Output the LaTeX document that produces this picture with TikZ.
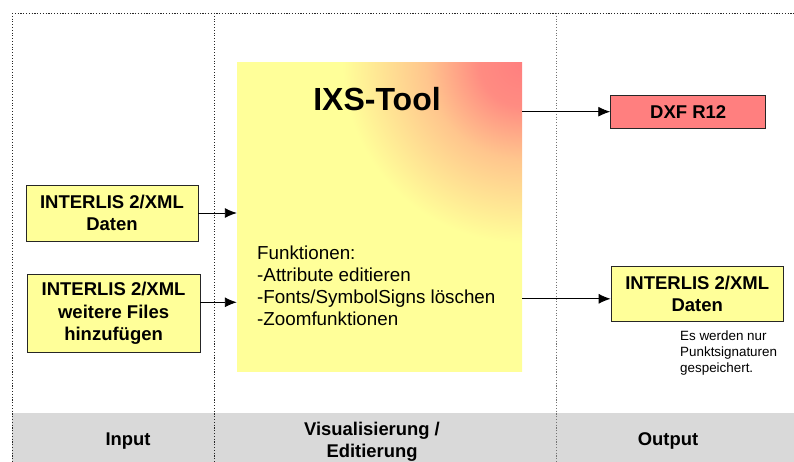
\documentclass[tikz,border=0pt]{standalone}
\usepackage{fontspec}
\setmainfont{Liberation Sans}
\usetikzlibrary{arrows.meta,calc}
\definecolor{boxyellow}{HTML}{FFFF99}
\definecolor{salmon}{HTML}{FF7F7F}
\definecolor{band}{HTML}{D9D9D9}
\pgfdeclareradialshading{cornerglow}{\pgfpoint{0bp}{0bp}}{%
  color(0bp)=(salmon); color(1.8bp)=(salmon!90!boxyellow); color(4bp)=(salmon!45!boxyellow); color(7.5bp)=(boxyellow); color(50bp)=(boxyellow)}
\begin{document}
\begin{tikzpicture}[x=1pt,y=-1pt,
  sepline/.style={line width=0.9pt, dash pattern=on 1.1pt off 1.7pt, draw=black!85},
  box/.style={draw=black!85, line width=0.9pt, fill=boxyellow, inner sep=0pt, align=center,
    font=\fontsize{18.5pt}{22.3pt}\selectfont\bfseries},
  arr/.style={line width=0.9pt, -{Latex[length=12pt,width=10pt]}},
  footer/.style={align=center, inner sep=0pt, font=\fontsize{18.4pt}{22pt}\selectfont\bfseries},
  plain/.style={align=left, inner sep=0pt, anchor=west}]
\useasboundingbox (0,0) rectangle (794,462);
% footer band
\fill[band] (12,413) rectangle (794,462);
% separators
\draw[sepline] (12,13) -- (794,13);
\draw[sepline] (12,13) -- (12,462);
\draw[sepline] (214,13) -- (214,462);
\draw[sepline, draw=black!55] (556,13) -- (556,462);
% main box
\node[inner sep=0pt, minimum width=285pt, minimum height=308pt,
  path picture={
    \fill[boxyellow] (path picture bounding box.south west) rectangle (path picture bounding box.north east);
    \shade[shading=cornerglow] (path picture bounding box.north east) circle (600pt);
  }] (main) at (379.5,217) {};
\node[inner sep=0pt, font=\fontsize{32pt}{36pt}\selectfont\bfseries] (title) at (377,99) {IXS-Tool};
\node[plain, font=\fontsize{18.8pt}{22.2pt}\selectfont] (func) at (257,285.7)
  {Funktionen:\\-Attribute editieren\\-Fonts/SymbolSigns löschen\\-Zoomfunktionen};
% input boxes
\node[box, minimum width=172pt, minimum height=56pt] (in1) at (112,213) {INTERLIS 2/XML\\Daten};
\node[box, minimum width=172.7pt, minimum height=78.7pt] (in2) at (113.6,313.3) {INTERLIS 2/XML\\weitere Files\\hinzufügen};
% output boxes
\node[box, fill=salmon, minimum width=155pt, minimum height=33.3pt] (dxf) at (688.2,111.7) {DXF R12};
\node[box, minimum width=172.3pt, minimum height=55.7pt] (out) at (697.2,293.8) {INTERLIS 2/XML\\Daten};
\node[plain, font=\fontsize{13.4pt}{16pt}\selectfont] (note) at (680,353.5)
  {Es werden nur\\Punktsignaturen\\gespeichert.};
% arrows
\draw[arr] (in1.east) -- (in1.east -| main.west);
\draw[arr] ([yshift=11pt]in2.east) -- ([yshift=11pt]in2.east -| main.west);
\draw[arr] (dxf.west -| main.east) -- (dxf.west);
\draw[arr] ([yshift=-5pt]out.west -| main.east) -- ([yshift=-5pt]out.west);
% footer labels
\node[footer] (lin) at (128,441) {Input};
\node[footer] (lvis) at (372,442) {Visualisierung /\\Editierung};
\node[footer] (lout) at (668,441) {Output};
\end{tikzpicture}
\end{document}
